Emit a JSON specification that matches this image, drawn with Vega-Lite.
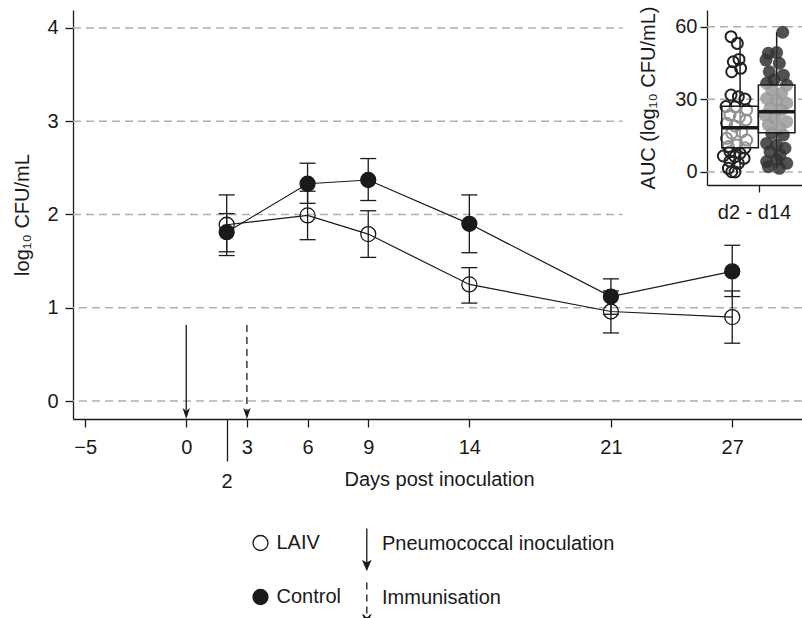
{
  "$schema": "https://vega.github.io/schema/vega-lite/v6.json",
  "width": 729,
  "height": 409,
  "autosize": {"type": "none"},
  "padding": {"left": 73, "top": 10, "right": 0, "bottom": 199},
  "background": "white",
  "config": {
    "font": "Liberation Sans",
    "view": {"stroke": null},
    "axis": {"labelFontSize": 20, "titleFontSize": 20, "titleFontWeight": "normal", "labelColor": "#1a1a1a", "titleColor": "#1a1a1a", "domainColor": "#1a1a1a", "tickColor": "#1a1a1a", "domainWidth": 1.3, "tickWidth": 1.3, "grid": false},
    "legend": {"labelFontSize": 20, "labelColor": "#1a1a1a", "padding": 0, "labelLimit": 400}
  },
  "datasets": {
    "means": [
      {"day": 2, "grp": "LAIV", "mean": 1.89, "lo": 1.56, "hi": 2.21},
      {"day": 6, "grp": "LAIV", "mean": 1.99, "lo": 1.73, "hi": 2.25},
      {"day": 9, "grp": "LAIV", "mean": 1.79, "lo": 1.54, "hi": 2.04},
      {"day": 14, "grp": "LAIV", "mean": 1.25, "lo": 1.05, "hi": 1.43},
      {"day": 21, "grp": "LAIV", "mean": 0.96, "lo": 0.73, "hi": 1.18},
      {"day": 27, "grp": "LAIV", "mean": 0.90, "lo": 0.62, "hi": 1.18},
      {"day": 2, "grp": "Control", "mean": 1.81, "lo": 1.60, "hi": 2.01},
      {"day": 6, "grp": "Control", "mean": 2.33, "lo": 2.12, "hi": 2.55},
      {"day": 9, "grp": "Control", "mean": 2.37, "lo": 2.15, "hi": 2.60},
      {"day": 14, "grp": "Control", "mean": 1.90, "lo": 1.59, "hi": 2.21},
      {"day": 21, "grp": "Control", "mean": 1.12, "lo": 0.93, "hi": 1.31},
      {"day": 27, "grp": "Control", "mean": 1.39, "lo": 1.12, "hi": 1.67}
    ],
    "arrows": [
      {"day": 0, "type": "Pneumococcal inoculation", "top": 0.815},
      {"day": 3, "type": "Immunisation", "top": 0.815}
    ],
    "box": [
      {"period": "d2 - d14", "grp": "LAIV", "lo": 0, "q1": 10.0, "med": 18.3, "q3": 27.2, "hi": 55.9},
      {"period": "d2 - d14", "grp": "Control", "lo": 1.5, "q1": 16.2, "med": 24.9, "q3": 35.9, "hi": 57.7}
    ],
    "auc": [
      {"period": "d2 - d14", "grp": "LAIV", "jx": 0.253, "auc": 55.9},
      {"period": "d2 - d14", "grp": "LAIV", "jx": 0.319, "auc": 53.1},
      {"period": "d2 - d14", "grp": "LAIV", "jx": 0.277, "auc": 45.5},
      {"period": "d2 - d14", "grp": "LAIV", "jx": 0.337, "auc": 46.5},
      {"period": "d2 - d14", "grp": "LAIV", "jx": 0.26, "auc": 41.4},
      {"period": "d2 - d14", "grp": "LAIV", "jx": 0.354, "auc": 42.8},
      {"period": "d2 - d14", "grp": "LAIV", "jx": 0.253, "auc": 31.8},
      {"period": "d2 - d14", "grp": "LAIV", "jx": 0.33, "auc": 31.1},
      {"period": "d2 - d14", "grp": "LAIV", "jx": 0.4, "auc": 30.1},
      {"period": "d2 - d14", "grp": "LAIV", "jx": 0.2, "auc": 27.0},
      {"period": "d2 - d14", "grp": "LAIV", "jx": 0.295, "auc": 26.9},
      {"period": "d2 - d14", "grp": "LAIV", "jx": 0.418, "auc": 25.6},
      {"period": "d2 - d14", "grp": "LAIV", "jx": 0.242, "auc": 23.5},
      {"period": "d2 - d14", "grp": "LAIV", "jx": 0.34, "auc": 22.6},
      {"period": "d2 - d14", "grp": "LAIV", "jx": 0.41, "auc": 21.5},
      {"period": "d2 - d14", "grp": "LAIV", "jx": 0.207, "auc": 20.1},
      {"period": "d2 - d14", "grp": "LAIV", "jx": 0.295, "auc": 19.0},
      {"period": "d2 - d14", "grp": "LAIV", "jx": 0.26, "auc": 16.0},
      {"period": "d2 - d14", "grp": "LAIV", "jx": 0.365, "auc": 16.6},
      {"period": "d2 - d14", "grp": "LAIV", "jx": 0.207, "auc": 13.9},
      {"period": "d2 - d14", "grp": "LAIV", "jx": 0.418, "auc": 13.2},
      {"period": "d2 - d14", "grp": "LAIV", "jx": 0.312, "auc": 11.1},
      {"period": "d2 - d14", "grp": "LAIV", "jx": 0.225, "auc": 10.5},
      {"period": "d2 - d14", "grp": "LAIV", "jx": 0.4, "auc": 10.0},
      {"period": "d2 - d14", "grp": "LAIV", "jx": 0.242, "auc": 8.4},
      {"period": "d2 - d14", "grp": "LAIV", "jx": 0.347, "auc": 7.7},
      {"period": "d2 - d14", "grp": "LAIV", "jx": 0.172, "auc": 6.6},
      {"period": "d2 - d14", "grp": "LAIV", "jx": 0.295, "auc": 6.3},
      {"period": "d2 - d14", "grp": "LAIV", "jx": 0.39, "auc": 5.6},
      {"period": "d2 - d14", "grp": "LAIV", "jx": 0.242, "auc": 4.5},
      {"period": "d2 - d14", "grp": "LAIV", "jx": 0.33, "auc": 3.6},
      {"period": "d2 - d14", "grp": "LAIV", "jx": 0.225, "auc": 1.5},
      {"period": "d2 - d14", "grp": "LAIV", "jx": 0.26, "auc": 0.1},
      {"period": "d2 - d14", "grp": "LAIV", "jx": 0.295, "auc": 0},
      {"period": "d2 - d14", "grp": "Control", "jx": 0.797, "auc": 57.7},
      {"period": "d2 - d14", "grp": "Control", "jx": 0.646, "auc": 49.0},
      {"period": "d2 - d14", "grp": "Control", "jx": 0.733, "auc": 49.3},
      {"period": "d2 - d14", "grp": "Control", "jx": 0.621, "auc": 46.2},
      {"period": "d2 - d14", "grp": "Control", "jx": 0.761, "auc": 44.9},
      {"period": "d2 - d14", "grp": "Control", "jx": 0.656, "auc": 41.4},
      {"period": "d2 - d14", "grp": "Control", "jx": 0.804, "auc": 40.0},
      {"period": "d2 - d14", "grp": "Control", "jx": 0.705, "auc": 38.0},
      {"period": "d2 - d14", "grp": "Control", "jx": 0.628, "auc": 36.6},
      {"period": "d2 - d14", "grp": "Control", "jx": 0.839, "auc": 35.9},
      {"period": "d2 - d14", "grp": "Control", "jx": 0.681, "auc": 33.9},
      {"period": "d2 - d14", "grp": "Control", "jx": 0.786, "auc": 32.5},
      {"period": "d2 - d14", "grp": "Control", "jx": 0.628, "auc": 30.4},
      {"period": "d2 - d14", "grp": "Control", "jx": 0.733, "auc": 29.7},
      {"period": "d2 - d14", "grp": "Control", "jx": 0.839, "auc": 28.4},
      {"period": "d2 - d14", "grp": "Control", "jx": 0.663, "auc": 26.3},
      {"period": "d2 - d14", "grp": "Control", "jx": 0.786, "auc": 25.6},
      {"period": "d2 - d14", "grp": "Control", "jx": 0.611, "auc": 23.5},
      {"period": "d2 - d14", "grp": "Control", "jx": 0.716, "auc": 22.2},
      {"period": "d2 - d14", "grp": "Control", "jx": 0.839, "auc": 20.8},
      {"period": "d2 - d14", "grp": "Control", "jx": 0.646, "auc": 19.4},
      {"period": "d2 - d14", "grp": "Control", "jx": 0.768, "auc": 18.0},
      {"period": "d2 - d14", "grp": "Control", "jx": 0.681, "auc": 16.0},
      {"period": "d2 - d14", "grp": "Control", "jx": 0.804, "auc": 15.3},
      {"period": "d2 - d14", "grp": "Control", "jx": 0.628, "auc": 11.8},
      {"period": "d2 - d14", "grp": "Control", "jx": 0.733, "auc": 11.1},
      {"period": "d2 - d14", "grp": "Control", "jx": 0.821, "auc": 9.8},
      {"period": "d2 - d14", "grp": "Control", "jx": 0.663, "auc": 8.4},
      {"period": "d2 - d14", "grp": "Control", "jx": 0.768, "auc": 7.0},
      {"period": "d2 - d14", "grp": "Control", "jx": 0.628, "auc": 4.3},
      {"period": "d2 - d14", "grp": "Control", "jx": 0.733, "auc": 5.0},
      {"period": "d2 - d14", "grp": "Control", "jx": 0.839, "auc": 3.6},
      {"period": "d2 - d14", "grp": "Control", "jx": 0.646, "auc": 2.2},
      {"period": "d2 - d14", "grp": "Control", "jx": 0.761, "auc": 1.5}
    ]
  },
  "layer": [
    {
      "layer": [
        {
          "data": {"values": [{"g": 0}, {"g": 1}]},
          "mark": {"type": "rule", "color": "#b0b0b0", "strokeWidth": 1.5, "strokeDash": [8, 5]},
          "encoding": {
            "y": {"field": "g", "type": "quantitative", "scale": {"domain": [-0.193, 4.193], "nice": false, "zero": false},
              "axis": {"values": [0, 1, 2, 3, 4], "format": "d", "title": "log₁₀ CFU/mL", "tickSize": 8, "labelPadding": 7, "titlePadding": 14}}
          }
        },
        {
          "data": {"values": [{"g": 2}, {"g": 3}, {"g": 4}]},
          "mark": {"type": "rule", "color": "#b0b0b0", "strokeWidth": 1.5, "strokeDash": [8, 5]},
          "encoding": {
            "y": {"field": "g", "type": "quantitative"},
            "x": {"datum": -5.6, "type": "quantitative", "scale": {"domain": [-5.6, 30.45], "nice": false, "zero": false},
              "axis": {"values": [-5, 0, 2, 3, 6, 9, 14, 21, 27], "title": "Days post inoculation",
                "tickSize": {"condition": {"test": "datum.value == 2", "value": 42}, "value": 8},
                "labelPadding": 10, "titleX": 366, "titleY": 66, "titleBaseline": "alphabetic", "titleAlign": "center", "titleAnchor": null}},
            "x2": {"datum": 21.58}
          }
        },
        {
          "data": {"name": "arrows"},
          "mark": {"type": "rule", "color": "#1a1a1a", "strokeWidth": 1.3},
          "encoding": {
            "x": {"field": "day", "type": "quantitative"},
            "y": {"field": "top", "type": "quantitative"},
            "y2": {"datum": -0.1},
            "strokeDash": {"field": "type", "type": "nominal",
              "scale": {"domain": ["Pneumococcal inoculation", "Immunisation"], "range": [[1, 0], [7, 5]]},
              "legend": {"orient": "none", "legendX": 260, "legendY": 512.5, "title": null,
                "symbolType": "M0.6,-0.756L0.6,1.044M0.43,0.844L0.6,1.244L0.77,0.844L0.6,0.944Z", "symbolSize": 1681,
                "symbolStrokeColor": "#1a1a1a", "symbolFillColor": "#1a1a1a", "symbolStrokeWidth": 1.3,
                "labelOffset": 6, "rowPadding": 4, "labelFontSize": 20}}
          }
        },
        {
          "data": {"name": "arrows"},
          "mark": {"type": "point", "shape": "M-0.67,-1L0,1L0.67,-1L0,-0.5Z", "size": 121, "filled": true, "color": "#1a1a1a", "opacity": 1},
          "encoding": {
            "x": {"field": "day", "type": "quantitative"},
            "y": {"datum": -0.134, "type": "quantitative"}
          }
        },
        {
          "data": {"name": "means"},
          "mark": {"type": "line", "color": "#1a1a1a", "strokeWidth": 1.2},
          "encoding": {
            "x": {"field": "day", "type": "quantitative"},
            "y": {"field": "mean", "type": "quantitative"},
            "detail": {"field": "grp"}
          }
        },
        {
          "data": {"name": "means"},
          "mark": {"type": "rule", "color": "#1a1a1a", "strokeWidth": 1.3},
          "encoding": {
            "x": {"field": "day", "type": "quantitative"},
            "y": {"field": "lo", "type": "quantitative"},
            "y2": {"field": "hi"}
          }
        },
        {
          "data": {"name": "means"},
          "mark": {"type": "tick", "orient": "horizontal", "size": 16, "thickness": 1.3, "color": "#1a1a1a", "opacity": 1},
          "encoding": {
            "x": {"field": "day", "type": "quantitative"},
            "y": {"field": "lo", "type": "quantitative"}
          }
        },
        {
          "data": {"name": "means"},
          "mark": {"type": "tick", "orient": "horizontal", "size": 16, "thickness": 1.3, "color": "#1a1a1a", "opacity": 1},
          "encoding": {
            "x": {"field": "day", "type": "quantitative"},
            "y": {"field": "hi", "type": "quantitative"}
          }
        },
        {
          "data": {"name": "means"},
          "mark": {"type": "circle", "size": 225, "stroke": "#1a1a1a", "strokeWidth": 1.3, "opacity": 1},
          "encoding": {
            "x": {"field": "day", "type": "quantitative"},
            "y": {"field": "mean", "type": "quantitative"},
            "fill": {"field": "grp", "type": "nominal",
              "scale": {"domain": ["LAIV", "Control"], "range": ["transparent", "#1a1a1a"]},
              "legend": {"orient": "none", "legendX": 177.5, "legendY": 523, "title": null,
                "symbolType": "circle", "symbolSize": 225, "symbolStrokeColor": "#1a1a1a", "symbolStrokeWidth": 1.3,
                "symbolOpacity": 1, "labelOffset": 6, "rowPadding": 32, "labelFontSize": 20}}
          }
        }
      ]
    },
    {
      "layer": [
        {
          "data": {"values": [{"a": 0}, {"a": 30}, {"a": 60}]},
          "mark": {"type": "rule", "color": "#b0b0b0", "strokeWidth": 1.5, "strokeDash": [8, 5]},
          "encoding": {
            "y": {"field": "a", "type": "quantitative",
              "scale": {"domain": [-5.37, 66.9], "range": [175, 0], "nice": false, "zero": false},
              "axis": {"orient": "left", "offset": -634, "values": [0, 30, 60], "title": "AUC (log₁₀ CFU/mL)", "tickSize": 7, "labelPadding": 3, "titlePadding": 16}},
            "x": {"datum": "d2 - d14", "type": "nominal", "bandPosition": 0,
              "scale": {"type": "band", "domain": ["d2 - d14"], "range": [634, 729], "paddingInner": 0, "paddingOuter": 0},
              "axis": {"orient": "bottom", "offset": -234, "title": null, "tickSize": 7, "labelPadding": 10, "labelAngle": 0, "bandPosition": 0.55}},
            "x2": {"datum": "d2 - d14", "bandPosition": 1}
          }
        },
        {
          "data": {"name": "box"},
          "mark": {"type": "rule", "color": "#1a1a1a", "strokeWidth": 1.5},
          "encoding": {
            "x": {"field": "period", "type": "nominal"},
            "xOffset": {"field": "grp", "type": "nominal", "scale": {"domain": ["LAIV", "Control"], "paddingInner": 0, "paddingOuter": 0.298, "align": 0.677}},
            "y": {"field": "lo", "type": "quantitative"},
            "y2": {"field": "hi"}
          }
        },
        {
          "data": {"name": "auc"},
          "transform": [{"filter": "datum.grp == 'LAIV'"}],
          "mark": {"type": "point", "shape": "circle", "size": 121, "strokeWidth": 2, "color": "#222222", "filled": false, "opacity": 1},
          "encoding": {
            "x": {"field": "period", "type": "nominal"},
            "xOffset": {"field": "jx", "type": "quantitative", "scale": {"domain": [0, 1]}},
            "y": {"field": "auc", "type": "quantitative"}
          }
        },
        {
          "data": {"name": "auc"},
          "transform": [{"filter": "datum.grp == 'Control'"}],
          "mark": {"type": "circle", "size": 169, "color": "#333333", "opacity": 0.85},
          "encoding": {
            "x": {"field": "period", "type": "nominal"},
            "xOffset": {"field": "jx", "type": "quantitative", "scale": {"domain": [0, 1]}},
            "y": {"field": "auc", "type": "quantitative"}
          }
        },
        {
          "data": {"name": "box"},
          "encoding": {
            "x": {"field": "period", "type": "nominal"},
            "xOffset": {"field": "grp", "type": "nominal", "scale": {"domain": ["LAIV", "Control"], "paddingInner": 0, "paddingOuter": 0.298, "align": 0.677}}
          },
          "layer": [
            {
              "mark": {"type": "bar", "fill": "white", "fillOpacity": 0.5, "stroke": "#1a1a1a", "strokeWidth": 1.5},
              "encoding": {"y": {"field": "q1", "type": "quantitative"}, "y2": {"field": "q3"}}
            },
            {
              "mark": {"type": "bar", "fill": "#1a1a1a", "stroke": "#1a1a1a", "strokeWidth": 3.5},
              "encoding": {"y": {"field": "med", "type": "quantitative"}, "y2": {"field": "med"}}
            }
          ]
        }
      ],
      "resolve": {"scale": {"xOffset": "independent"}}
    }
  ],
  "resolve": {"scale": {"x": "independent", "y": "independent"}}
}
